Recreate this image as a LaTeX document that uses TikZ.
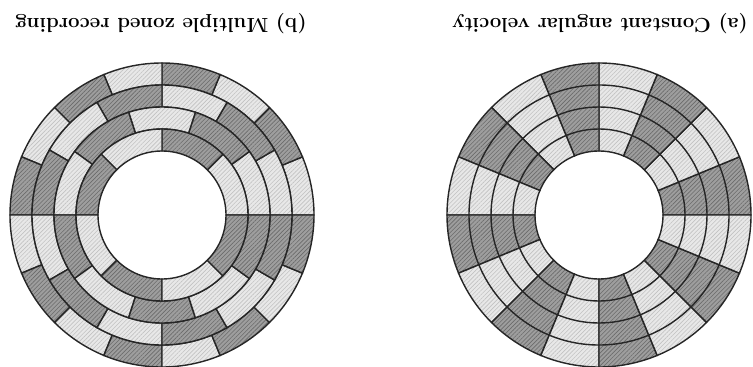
\documentclass[tikz,border=0pt]{standalone}
\usetikzlibrary{patterns.meta}

% one cell of a track: inner radius, outer radius, start angle, end angle, style
\newcommand{\diskcell}[5]{%
  \path[#5] (#3:#1) arc[start angle=#3, end angle=#4, radius=#1]
    -- (#4:#2) arc[start angle=#4, end angle=#3, radius=#2] -- cycle;}

\begin{document}
\begin{tikzpicture}[x=0.02cm, y=0.02cm,
    cell/.style={draw=black!85, line width=0.8pt, pattern={Lines[angle=45, distance=1.7pt, line width=0.35pt]}},
    darkcell/.style={cell, preaction={fill=black!38}, pattern color=black!58},
    lightcell/.style={cell, preaction={fill=black!9}, pattern color=black!24},
    ring/.style={draw=black!85, line width=0.8pt},
    caption/.style={rotate=180, font=\bfseries\fontsize{11.6}{14}\selectfont}
]
    \useasboundingbox (0,0) rectangle (753,366);

    % (a) constant angular velocity: 16 sectors over all tracks
    \begin{scope}[shift={(599,151)}]
        \foreach \k in {0,...,7} {
            \diskcell{64}{152}{45*\k}{45*\k+22.5}{darkcell}
            \diskcell{64}{152}{45*\k+22.5}{45*\k+45}{lightcell}
        }
        \foreach \r in {86,108,130}
            \draw[ring] (0,0) circle[radius=\r];
    \end{scope}

    % (b) multiple zoned recording: each track has its own sectors
    \begin{scope}[shift={(162,151)}]
        \foreach \ri/\ro/\n in {130/152/16, 108/130/12, 86/108/10, 64/86/8} {
            \pgfmathsetmacro{\w}{360/\n}
            \foreach \k in {1,...,\n} {
                \pgfmathsetmacro{\a}{\w*(\k-1)}
                \ifodd\k
                    \diskcell{\ri}{\ro}{\a}{\a+\w}{lightcell}
                \else
                    \diskcell{\ri}{\ro}{\a}{\a+\w}{darkcell}
                \fi
            }
        }
    \end{scope}

    \node[caption] (mzrlabel) at (161,342) {(b) Multiple zoned recording};
    \node[caption] (cavlabel) at (600,342) {(a) Constant angular velocity};
\end{tikzpicture}
\end{document}
